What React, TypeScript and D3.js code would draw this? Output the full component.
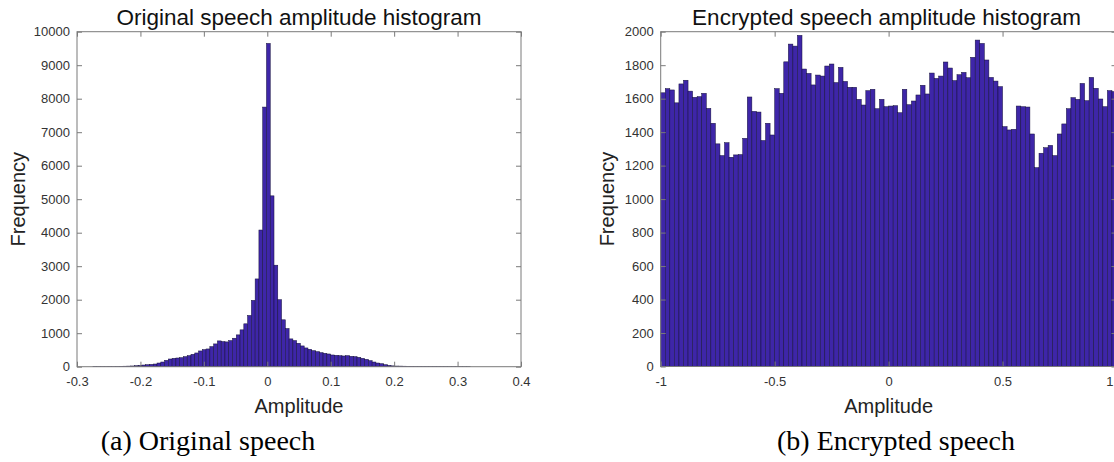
import React, { useEffect, useRef } from 'react';
import * as d3 from 'd3';

// histogram counts, 100 bins each
const leftRange = [-0.275, 0.32];
const leftCounts = [
  8, 5, 6, 4, 8, 6, 10, 12, 15, 18,
  22, 30, 40, 50, 60, 70, 80, 110, 140, 190,
  230, 250, 260, 270, 300, 330, 370, 410, 470, 510,
  530, 600, 680, 770, 750, 740, 780, 850, 950, 1100,
  1280, 1530, 1980, 2620, 4080, 7750, 9650, 5100, 3030, 2000,
  1400, 1140, 830, 780, 700, 620, 560, 520, 480, 450,
  420, 400, 380, 350, 340, 330, 320, 330, 310, 300,
  280, 250, 220, 180, 140, 110, 90, 60, 40, 25,
  20, 18, 15, 12, 12, 10, 10, 8, 8, 8,
  10, 8, 6, 5, 4, 4, 3, 3, 2, 2,
];
const leftXTicks = [-0.3, -0.2, -0.1, 0, 0.1, 0.2, 0.3, 0.4];
const leftYTicks = [0, 1000, 2000, 3000, 4000, 5000, 6000, 7000, 8000, 9000, 10000];

const rightRange = [-1, 1];
const rightCounts = [
  1635, 1660, 1652, 1575, 1688, 1710, 1645, 1608, 1612, 1632,
  1542, 1453, 1330, 1260, 1337, 1250, 1264, 1266, 1363, 1610,
  1524, 1520, 1350, 1453, 1383, 1660, 1632, 1820, 1926, 1914,
  1978, 1777, 1751, 1682, 1741, 1735, 1795, 1807, 1696, 1787,
  1703, 1668, 1668, 1596, 1562, 1648, 1656, 1540, 1596, 1552,
  1556, 1558, 1516, 1656, 1564, 1586, 1622, 1680, 1628, 1753,
  1721, 1735, 1819, 1783, 1708, 1743, 1757, 1725, 1847, 1950,
  1930, 1831, 1727, 1705, 1672, 1433, 1413, 1417, 1556, 1552,
  1550, 1389, 1188, 1274, 1307, 1321, 1260, 1389, 1449, 1540,
  1606, 1596, 1691, 1588, 1727, 1662, 1598, 1552, 1648, 1642,
];
const rightXTicks = [-1, -0.5, 0, 0.5, 1];
const rightYTicks = [0, 200, 400, 600, 800, 1000, 1200, 1400, 1600, 1800, 2000];

const panels = [
  {
    title: 'Original speech amplitude histogram',
    caption: '(a) Original speech',
    range: leftRange, counts: leftCounts,
    xDomain: [-0.3, 0.4], yDomain: [0, 10000],
    xTicks: leftXTicks, yTicks: leftYTicks,
    box: { x0: 77, x1: 521, y0: 31.7, y1: 366.7 },
    ylabelX: 25, captionX: 208,
  },
  {
    title: 'Encrypted speech amplitude histogram',
    caption: '(b) Encrypted speech',
    range: rightRange, counts: rightCounts,
    xDomain: [-1, 1], yDomain: [0, 2000],
    xTicks: rightXTicks, yTicks: rightYTicks,
    box: { x0: 660.7, x1: 1116.5, y0: 31.7, y1: 366.5 },
    ylabelX: 614, captionX: 896,
  },
];

const sans = 'Liberation Sans, Arial, Helvetica, sans-serif';
const fmt = (d: number) => String(d);
const W = 1114;

const App = () => {
  const svgRef = useRef<SVGSVGElement>(null);

  useEffect(() => {
    const svg = d3.select(svgRef.current);
    svg.selectAll('*').remove();

    panels.forEach((p) => {
      const { x0, x1, y0, y1 } = p.box;
      const x = d3.scaleLinear().domain(p.xDomain).range([x0, x1]);
      const y = d3.scaleLinear().domain(p.yDomain).range([y1, y0]);
      const g = svg.append('g');

      const n = p.counts.length;
      const w = (p.range[1] - p.range[0]) / n;
      g.selectAll('rect.bar')
        .data(p.counts)
        .join('rect')
        .attr('class', 'bar')
        .attr('x', (_d, i) => x(p.range[0] + i * w))
        .attr('width', (_d, i) => x(p.range[0] + (i + 1) * w) - x(p.range[0] + i * w))
        .attr('y', (d) => y(d))
        .attr('height', (d) => y(0) - y(d))
        .attr('fill', '#3e26a8')
        .attr('stroke', '#15103a')
        .attr('stroke-width', 0.5);

      // box
      g.append('rect')
        .attr('x', x0).attr('y', y0)
        .attr('width', x1 - x0).attr('height', y1 - y0)
        .attr('fill', 'none').attr('stroke', '#7a7a7a').attr('stroke-width', 1);

      const style = (sel: any) => {
        sel.select('.domain').remove();
        sel.selectAll('.tick line').attr('stroke', '#7a7a7a');
        sel.selectAll('.tick text')
          .attr('font-family', sans).attr('font-size', 13).attr('fill', '#333');
      };

      const xAxisG = g.append('g').attr('transform', `translate(0,${y1})`)
        .call(d3.axisBottom(x).tickValues(p.xTicks).tickFormat(fmt as any).tickSize(-5).tickPadding(10))
        .call(style);
      // a label that would run past the page edge is pulled back inside
      xAxisG.selectAll('.tick text')
        .filter((d: any) => x(d) > W - 6)
        .attr('text-anchor', 'end')
        .attr('dx', (d: any) => W - 1 - x(d));

      g.append('g').attr('transform', `translate(0,${y0})`)
        .call(d3.axisTop(x).tickValues(p.xTicks).tickFormat(() => '').tickSize(-5))
        .call(style);
      g.append('g').attr('transform', `translate(${x0},0)`)
        .call(d3.axisLeft(y).tickValues(p.yTicks).tickFormat(fmt as any).tickSize(-5).tickPadding(7))
        .call(style);
      g.append('g').attr('transform', `translate(${x1},0)`)
        .call(d3.axisRight(y).tickValues(p.yTicks).tickFormat(() => '').tickSize(-5))
        .call(style);

      const cx = (x0 + x1) / 2;
      g.append('text')
        .attr('x', cx - (x1 > W ? 2 : 0)).attr('y', 25)
        .attr('text-anchor', 'middle')
        .attr('font-family', sans).attr('font-size', 22.5).attr('fill', '#111')
        .text(p.title);
      g.append('text')
        .attr('x', cx).attr('y', 413)
        .attr('text-anchor', 'middle')
        .attr('font-family', sans).attr('font-size', 20).attr('fill', '#222')
        .text('Amplitude');
      g.append('text')
        .attr('transform', `translate(${p.ylabelX},${(y0 + y1) / 2}) rotate(-90)`)
        .attr('text-anchor', 'middle')
        .attr('font-family', sans).attr('font-size', 20).attr('fill', '#222')
        .text('Frequency');
      g.append('text')
        .attr('x', p.captionX).attr('y', 450)
        .attr('text-anchor', 'middle')
        .attr('font-family', 'Liberation Serif, Times New Roman, serif')
        .attr('font-size', 28).attr('fill', '#000')
        .text(p.caption);
    });
  }, []);

  return (
    <svg
      ref={svgRef}
      width={W}
      height={462}
      style={{ position: 'absolute', left: 0, top: 0, background: '#fff' }}
    />
  );
};

export default App;
